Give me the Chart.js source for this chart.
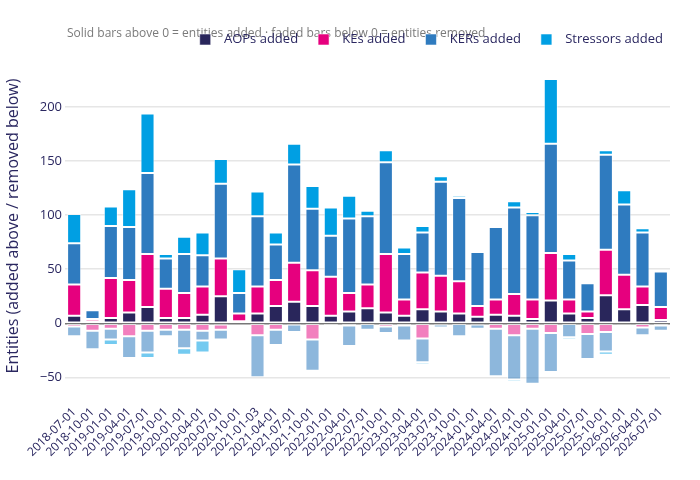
<!DOCTYPE html>
<html>
<head>
<meta charset="utf-8">
<script src="https://cdn.jsdelivr.net/npm/chart.js@4.4.1/dist/chart.umd.min.js"></script>
<style>
  html, body { margin: 0; padding: 0; background: #ffffff; }
  #wrap { width: 700px; height: 480px; position: relative; }
</style>
</head>
<body>
<div id="wrap"><canvas id="c"></canvas></div>
<script>
const quarters = ["2018-07-01","2018-10-01","2019-01-01","2019-04-01","2019-07-01","2019-10-01","2020-01-01","2020-04-01","2020-07-01","2020-10-01","2021-01-03","2021-04-01","2021-07-01","2021-10-01","2022-01-01","2022-04-01","2022-07-01","2022-10-01","2023-01-01","2023-04-01","2023-07-01","2023-10-01","2024-01-01","2024-04-01","2024-07-01","2024-10-01","2025-01-01","2025-04-01","2025-07-01","2025-10-01","2026-01-01","2026-04-01","2026-07-01"];

const aopsAdded      = [7,2,5,10,15,5,5,8,25,2,9,16,20,16,7,11,14,10,7,13,11,9,6,8,7,4,21,9,5,26,13,17,3];
const kesAdded       = [29,2,37,30,49,27,23,26,35,7,25,24,36,33,36,17,22,54,15,34,33,30,10,14,20,18,44,13,6,42,32,17,12];
const kersAdded      = [38,8,48,49,75,28,36,29,69,19,65,33,91,57,38,69,63,85,42,37,87,77,50,67,80,78,101,36,26,88,65,50,33];
const stressorsAdded = [27,0,18,35,55,4,16,21,23,22,23,11,19,21,26,21,5,11,6,6,5,2,0,0,6,3,60,6,0,4,13,4,0];

const aopsRemoved      = [0,0,0,0,0,0,0,0,-1,0,0,0,-1,0,0,0,0,0,0,0,0,0,0,0,0,0,0,0,0,0,0,0,0];
const kesRemoved       = [-3,-7,-5,-12,-7,-6,-6,-7,-5,0,-11,-6,0,-15,0,-2,0,-3,-2,-14,-1,0,-1,-5,-11,-5,-9,0,-10,-8,-1,-4,-2];
const kersRemoved      = [-9,-17,-10,-20,-20,-6,-17,-9,-9,0,-39,-14,-7,-29,-2,-19,-6,-6,-14,-22,-3,-12,-4,-44,-41,-51,-36,-13,-23,-18,0,-7,-5];
const stressorsRemoved = [-1,0,-5,0,-5,0,-6,-11,0,0,0,0,0,0,0,0,0,0,0,-2,0,0,0,0,-2,0,-1,-2,0,-3,0,0,0];

const yTicks = [-50, 0, 50, 100, 150, 200];
const legendNames = ['AOPs added', 'KEs added', 'KERs added', 'Stressors added'];

const navy = '#2a2760';
const C = {
  aop: '#29265b', ke: '#e6007e', ker: '#2f7bbf', st: '#009fe3',
  aopF: 'rgba(41,38,91,0.5)', keF: 'rgba(230,0,126,0.5)', kerF: 'rgba(47,123,191,0.55)', stF: 'rgba(0,159,227,0.55)'
};
const border = 'rgba(255,255,255,0.55)';

function ds(label, data, color, legend) {
  return { label, data, backgroundColor: color, borderColor: border, borderWidth: 1,
           borderSkipped: false, stack: 's', _legend: legend, yAxisID: 'y',
           barPercentage: 1.0, categoryPercentage: 0.77 };
}

const datasets = [
  ds(legendNames[0], aopsAdded, C.aop, true),
  ds(legendNames[1], kesAdded, C.ke, true),
  ds(legendNames[2], kersAdded, C.ker, true),
  ds(legendNames[3], stressorsAdded, C.st, true),
  ds('AOPs removed', aopsRemoved, C.aopF, false),
  ds('KEs removed', kesRemoved, C.keF, false),
  ds('KERs removed', kersRemoved, C.kerF, false),
  ds('Stressors removed', stressorsRemoved, C.stF, false)
];

const noteText = 'Solid bars above 0 = entities added \u00b7 faded bars below 0 = entities removed';
const notePlugin = {
  id: 'note',
  beforeLayout(chart) {
    const lg = chart.legend;
    if (lg && !lg._extraGap) {
      const origFit = lg.fit;
      lg.fit = function () { origFit.call(this); this.height += 10; };
      lg._extraGap = true;
    }
  },
  beforeDraw(chart) {
    const ctx = chart.ctx;
    ctx.save();
    ctx.font = '12px "Open Sans"';
    ctx.fillStyle = '#7a7a7a';
    ctx.textBaseline = 'middle';
    ctx.fillText(noteText, 67, 34);
    ctx.restore();
  }
};

new Chart(document.getElementById('c'), {
  type: 'bar',
  data: { labels: quarters, datasets },
  plugins: [notePlugin],
  options: {
    responsive: true,
    maintainAspectRatio: false,
    animation: false,
    layout: { padding: { top: 13, right: 17, bottom: 0, left: 0 } },
    plugins: {
      legend: {
        position: 'top',
        align: 'end',
        labels: {
          filter: (item, data) => data.datasets[item.datasetIndex]._legend,
          generateLabels: (chart) => {
            const items = Chart.defaults.plugins.legend.labels.generateLabels(chart);
            items.forEach(it => { it.text = '  ' + it.text; });
            return items;
          },
          boxWidth: 11, boxHeight: 11,
          color: navy,
          font: { family: 'Open Sans', size: 13 },
          padding: 20
        }
      },
      tooltip: { enabled: false }
    },
    scales: {
      x: {
        stacked: true,
        grid: { display: false },
        border: { display: false },
        afterFit: (s) => { s.height = 94; },
        ticks: {
          autoSkip: false, maxRotation: 45, minRotation: 45,
          color: navy, font: { family: 'Open Sans', size: 12 }, padding: 11
        }
      },
      y: {
        stacked: true,
        min: -58, max: 238,
        border: { display: false },
        afterFit: (s) => { s.width = 65; },
        afterBuildTicks: (axis) => { axis.ticks = yTicks.map(v => ({ value: v })); },
        grid: {
          color: (c) => c.tick && c.tick.value === 0 ? '#777777' : '#e6e6e6',
          lineWidth: 1.5,
          drawTicks: false
        },
        ticks: {
          color: navy, font: { family: 'Open Sans', size: 13 }, padding: 3,
          callback: (v) => (v < 0 ? '\u2212' + Math.abs(v) : String(v))
        },
        title: {
          display: true, text: 'Entities (added above / removed below)',
          color: navy, font: { family: 'Open Sans', size: 16 }, padding: { top: 4, bottom: 0 }
        }
      },
      yPad: {
        position: 'right',
        display: true,
        grid: { display: false },
        border: { display: false },
        ticks: { display: false },
        afterFit: (s) => { s.width = 13; }
      }
    }
  }
});
</script>
</body>
</html>
